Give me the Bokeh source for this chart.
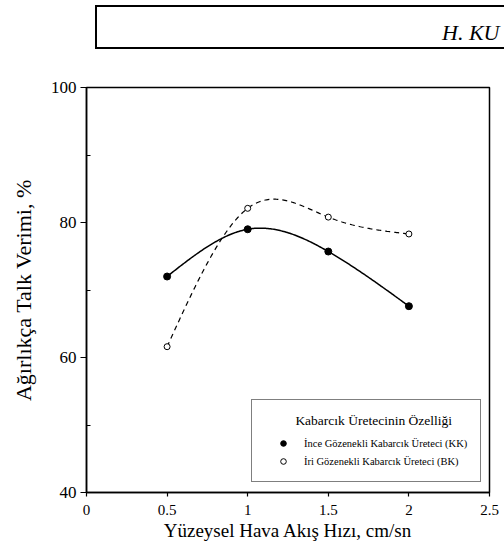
import numpy as np
from bokeh.plotting import figure
from bokeh.models import Range1d, Legend, LegendItem, FixedTicker, Div
from bokeh.layouts import column
from bokeh.embed import file_html
from bokeh.resources import INLINE

# Superficial air flow rate (cm/sn) and talc yield by weight (%)
flow_rate = [0.5, 1.0, 1.5, 2.0]
fine_pore_yield = [72.0, 79.0, 75.7, 67.6]     # İnce Gözenekli Kabarcık Üreteci (KK)
coarse_pore_yield = [61.6, 82.1, 80.8, 78.3]   # İri Gözenekli Kabarcık Üreteci (BK)

x_ticks = [0, 0.5, 1, 1.5, 2, 2.5]
x_tick_labels = ["0", "0.5", "1", "1.5", "2", "2.5"]
y_ticks = [40, 60, 80, 100]
y_minor_ticks = [50, 70, 90]

FONT = "Liberation Serif"


def natural_spline(xs, ys, n=200):
    """Smooth curve through the measured points (natural cubic spline)."""
    x = np.asarray(xs, float)
    y = np.asarray(ys, float)
    k = len(x)
    h = np.diff(x)
    A = np.zeros((k, k))
    b = np.zeros(k)
    A[0, 0] = 1.0
    A[-1, -1] = 1.0
    for i in range(1, k - 1):
        A[i, i - 1] = h[i - 1]
        A[i, i] = 2 * (h[i - 1] + h[i])
        A[i, i + 1] = h[i]
        b[i] = 6 * ((y[i + 1] - y[i]) / h[i] - (y[i] - y[i - 1]) / h[i - 1])
    M = np.linalg.solve(A, b)
    xx = np.linspace(x[0], x[-1], n)
    idx = np.clip(np.searchsorted(x, xx, side="right") - 1, 0, k - 2)
    x0, x1 = x[idx], x[idx + 1]
    hh = x1 - x0
    t0, t1 = x1 - xx, xx - x0
    yy = (M[idx] * t0 ** 3 / (6 * hh) + M[idx + 1] * t1 ** 3 / (6 * hh)
          + (y[idx] / hh - M[idx] * hh / 6) * t0
          + (y[idx + 1] / hh - M[idx + 1] * hh / 6) * t1)
    return xx, yy


# --- running header box (open on the right, runs off the page) -----------
header_html = (
    '<div style="position:relative;width:504px;height:60px;overflow:hidden;">'
    '<div style="position:absolute;left:95px;top:5px;width:460px;height:44px;'
    'border:2px solid black;"></div>'
    '<div style="position:absolute;left:442px;top:22px;white-space:nowrap;'
    "font-family:'Liberation Serif','Times New Roman',serif;font-style:italic;"
    'font-size:22px;line-height:22px;color:black;">H. KU</div>'
    '</div>'
)
header = Div(text=header_html, width=504, height=60, margin=0,
             styles={"overflow": "hidden"})

# --- main chart ---------------------------------------------------------
p = figure(width=504, height=487, x_range=Range1d(0, 2.5), y_range=Range1d(40, 100),
           output_backend="svg", toolbar_location=None,
           min_border_left=86, min_border_right=15, min_border_top=27, min_border_bottom=55)
p.grid.visible = False
p.outline_line_color = "black"
p.outline_line_width = 1.5

p.xaxis.ticker = FixedTicker(ticks=x_ticks, minor_ticks=[])
p.xaxis.major_label_overrides = {t: s for t, s in zip(x_ticks, x_tick_labels)}
p.yaxis.ticker = FixedTicker(ticks=y_ticks, minor_ticks=y_minor_ticks)

for ax in (p.xaxis[0], p.yaxis[0]):
    ax.axis_line_color = "black"
    ax.axis_line_width = 1.5
    ax.major_tick_line_color = "black"
    ax.minor_tick_line_color = "black"
    ax.major_tick_line_width = 1.2
    ax.minor_tick_line_width = 1.2
    ax.major_label_text_font = FONT
    ax.major_label_text_color = "black"
    ax.axis_label_text_font = FONT
    ax.axis_label_text_font_style = "normal"
    ax.axis_label_text_color = "black"

p.xaxis.major_tick_out = 4
p.xaxis.major_tick_in = 0
p.xaxis.major_label_text_font_size = "15px"
p.xaxis.major_label_standoff = 8
p.xaxis.axis_label = "Yüzeysel Hava Akış Hızı, cm/sn"
p.xaxis.axis_label_text_font_size = "19px"
p.xaxis.axis_label_standoff = 2

p.yaxis.major_tick_out = 6
p.yaxis.major_tick_in = 0
p.yaxis.minor_tick_out = 0
p.yaxis.minor_tick_in = 4
p.yaxis.major_label_text_font_size = "17px"
p.yaxis.major_label_standoff = 4
p.yaxis.axis_label = "Ağırlıkça Talk Verimi, %"
p.yaxis.axis_label_text_font_size = "22px"
p.yaxis.axis_label_standoff = 12

# smooth connecting curves
xs_kk, ys_kk = natural_spline(flow_rate, fine_pore_yield)
xs_bk, ys_bk = natural_spline(flow_rate, coarse_pore_yield)
p.line(xs_kk, ys_kk, line_color="black", line_width=1.5)
p.line(xs_bk, ys_bk, line_color="black", line_width=1.2, line_dash="5 4")

r_kk = p.scatter(flow_rate, fine_pore_yield, marker="circle", size=7,
                 fill_color="black", line_color="black")
r_bk = p.scatter(flow_rate, coarse_pore_yield, marker="circle", size=6,
                 fill_color="white", line_color="black", line_width=1)

# legend title is indented with no-break spaces so it sits over the labels
legend = Legend(
    items=[
        LegendItem(label="İnce Gözenekli Kabarcık Üreteci (KK)", renderers=[r_kk]),
        LegendItem(label="İri Gözenekli Kabarcık Üreteci (BK)", renderers=[r_bk]),
    ],
    title="\u00a0" * 9 + "Kabarcık Üretecinin Özelliği",
    location=(165, 10),
    orientation="vertical",
)
legend.title_text_font = FONT
legend.title_text_font_size = "13.5px"
legend.title_text_font_style = "normal"
legend.title_text_color = "black"
legend.title_standoff = 7
legend.label_text_font = FONT
legend.label_text_font_size = "10.5px"
legend.label_text_color = "black"
legend.border_line_color = "black"
legend.border_line_width = 1
legend.background_fill_color = "white"
legend.background_fill_alpha = 1
legend.padding = 13
legend.spacing = 4
legend.margin = 0
legend.glyph_width = 36
legend.glyph_height = 14
legend.label_standoff = 3
legend.label_height = 14
p.add_layout(legend)

layout = column(header, p, spacing=0)
open("out.html", "w").write(file_html(layout, INLINE))
